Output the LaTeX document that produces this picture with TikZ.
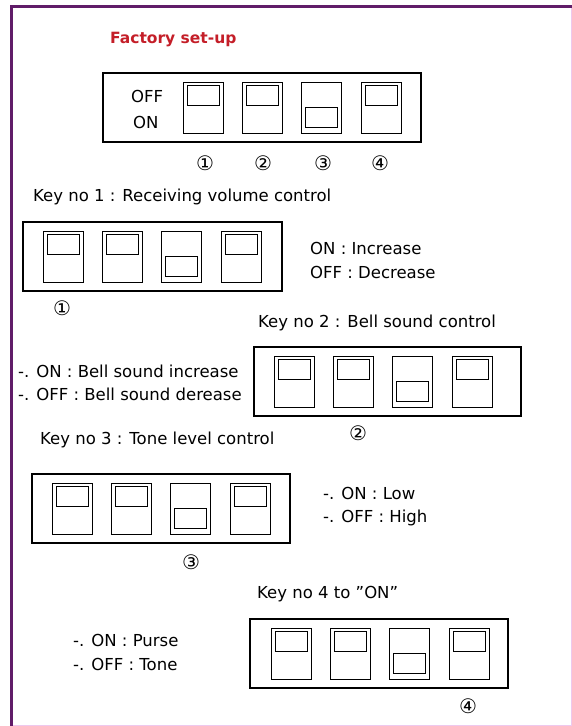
\documentclass[tikz,border=0pt]{standalone}
\usepackage{fontspec}
\setmainfont{DejaVu Sans}
\usepackage{tikz}
\definecolor{titlered}{RGB}{196,30,40}
\definecolor{framepurple}{RGB}{96,28,104}
\definecolor{framepink}{RGB}{238,200,238}

% four DIP keys in a box: #1 box left, #2 box top, #3 box right, #4 left of first key
\newcommand{\dipblock}[4]{%
  \draw[boxline] (#1,#2) rectangle (#3,#2+68.5);
  \foreach \k/\st in {0/0,1/0,2/1,3/0}{
    \pgfmathsetmacro{\kx}{#4+59.4*\k}
    \pgfmathsetmacro{\ky}{#2+12+\st*22}
    \draw[keyline] (\kx,#2+9) rectangle ++(40,51);
    \draw[keyline] (\kx+4,\ky) rectangle ++(32,20);
  }%
}

\begin{document}
\begin{tikzpicture}[x=1pt,y=-1pt,
    txt/.style={anchor=west,inner sep=0pt,font=\fontsize{16.5}{19}\selectfont},
    num/.style={inner sep=0pt,font=\fontsize{20}{22}\selectfont},
    boxline/.style={line width=2pt},
    keyline/.style={line width=0.9pt}]
      \useasboundingbox (0,0) rectangle (572,726);
      % Frame
      \draw[framepink,line width=1pt] (11.5,6.5) rectangle (571,725);
      \draw[framepurple,line width=3pt] (11.5,726) -- (11.5,6.5) -- (572,6.5);
      % Factory set-up
      \node[anchor=west,inner sep=0pt,text=titlered,font=\fontsize{15.5}{18}\selectfont\bfseries] (title) at (110,40) {Factory set-up};
      \dipblock{103}{73}{421}{183}
      \node[txt] (off) at (131,96) {OFF};
      \node[txt] (on) at (133,122) {ON};
      \node[num] (top1) at (205,163) {①};
      \node[num] (top2) at (263,163) {②};
      \node[num] (top3) at (323,163) {③};
      \node[num] (top4) at (380,163) {④};
      % Key no 1
      \node[txt] (key1) at (33,197) {Key no 1 : Receiving volume control};
      \dipblock{23}{222}{282}{43}
      \node[txt] (key1on) at (310,248) {ON : Increase};
      \node[txt] (key1off) at (310,272) {OFF : Decrease};
      \node[num] (n1) at (62,308) {①};
      % Key no 2
      \node[txt] (key2) at (258,323) {Key no 2 : Bell sound control};
      \dipblock{254}{347}{521}{274}
      \node[txt] (key2on) at (18,371) {-. ON : Bell sound increase};
      \node[txt] (key2off) at (18,394) {-. OFF : Bell sound derease};
      \node[num] (n2) at (358,433) {②};
      % Key no 3
      \node[txt] (key3) at (40,440) {Key no 3 : Tone level control};
      \dipblock{32}{474}{290}{52}
      \node[txt] (key3on) at (323,493) {-. ON : Low};
      \node[txt] (key3off) at (323,518) {-. OFF : High};
      \node[num] (n3) at (191,562) {③};
      % Key no 4
      \node[txt] (key4) at (257,594) {Key no 4 to \symbol{34}ON\symbol{34}};
      \dipblock{250}{619}{508}{271}
      \node[txt] (key4on) at (73,640) {-. ON : Purse};
      \node[txt] (key4off) at (73,664) {-. OFF : Tone};
      \node[num] (n4) at (468,706) {④};
\end{tikzpicture}
\end{document}
